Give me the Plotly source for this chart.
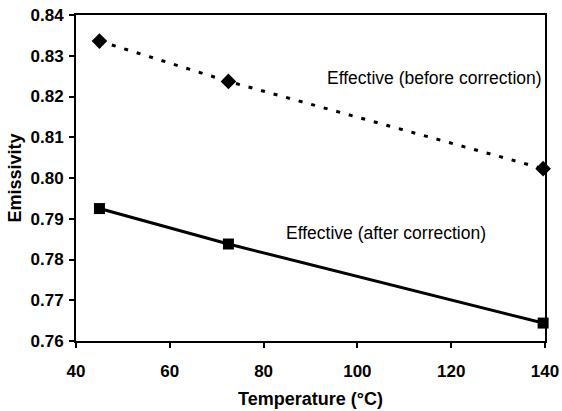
import plotly.graph_objects as go

temps = [45.0, 72.5, 139.6]
before = [0.8336, 0.8237, 0.8023]
after = [0.7925, 0.7838, 0.7644]

label_before = "Effective (before correction)"
label_after = "Effective (after correction)"
x_ticks = [40, 60, 80, 100, 120, 140]
y_ticks = [0.76, 0.77, 0.78, 0.79, 0.80, 0.81, 0.82, 0.83, 0.84]

FONT = "Liberation Sans, Arial"

fig = go.Figure()
fig.add_trace(go.Scatter(x=temps, y=before, mode="lines+markers",
                         line=dict(color="black", width=3, dash="4px,9px"),
                         marker=dict(symbol="diamond", size=12, color="black"),
                         cliponaxis=False, showlegend=False))
fig.add_trace(go.Scatter(x=temps, y=after, mode="lines+markers",
                         line=dict(color="black", width=3),
                         marker=dict(symbol="square", size=11, color="black"),
                         cliponaxis=False, showlegend=False))

fig.add_annotation(x=116.5, y=0.8245, text=label_before, showarrow=False,
                   font=dict(family=FONT, size=17.5, color="black"))
fig.add_annotation(x=106.2, y=0.7865, text=label_after, showarrow=False,
                   font=dict(family=FONT, size=17.5, color="black"))

axis_common = dict(showline=True, linecolor="black", linewidth=2, mirror=True,
                   ticks="outside", ticklen=5, tickwidth=2, tickcolor="black",
                   showgrid=False, zeroline=False, automargin=False,
                   tickfont=dict(family=FONT, size=17, color="black", weight="bold"))

fig.update_xaxes(range=[40, 140], tickvals=x_ticks, ticktext=[str(v) for v in x_ticks],
                 ticklabelstandoff=9,
                 title=dict(text="<b>Temperature (°C)</b>", standoff=12,
                            font=dict(family=FONT, size=18, color="black")),
                 **axis_common)
fig.update_yaxes(range=[0.76, 0.84], tickvals=y_ticks, ticktext=[f"{v:.2f}" for v in y_ticks],
                 ticklabelstandoff=2,
                 title=dict(text="<b>Emissivity</b>", standoff=4,
                            font=dict(family=FONT, size=18, color="black")),
                 **axis_common)

fig.update_layout(width=562, height=411, margin=dict(l=76, r=17, t=15, b=70),
                  paper_bgcolor="white", plot_bgcolor="white")

fig.write_html("out.html")
